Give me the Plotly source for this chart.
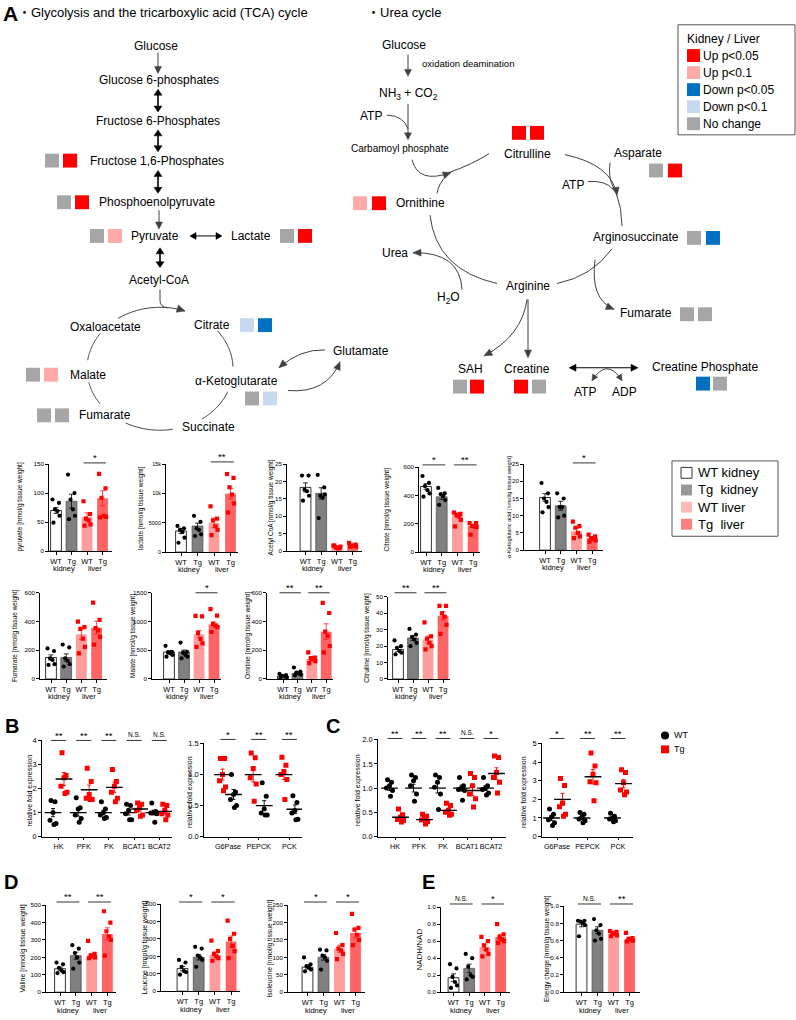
import math
import plotly.graph_objects as go

W, H = 796, 1020
FONT = "Liberation Sans, Arial, Noto Sans CJK JP, sans-serif"

UP05 = "#FF0000"; UP10 = "#FFA9A9"; DN05 = "#0070C0"; DN10 = "#C6D9F0"; NOCH = "#A6A6A6"
BAR_WTK = "#FFFFFF"; BAR_TGK = "#808080"; BAR_WTL = "#FF9C9C"; BAR_TGL = "#FF6464"
PT_LIVER = "#FF0000"
ARC = "#404040"

# ---------------- data ----------------
group_labels = ["WT", "Tg", "WT", "Tg"]
tissue_labels = ["kidney", "liver"]

pyruvate_mean = [70, 86, 59, 91]
pyruvate_sem = [5, 12, 7, 13]
pyruvate_pts = [[89, 83, 72, 69, 61, 49], [132, 100, 89, 72, 61, 55],
                [86, 64, 56, 53, 46, 44], [133, 108, 92, 61, 59, 58]]

lactate_mean = [3600, 4450, 5000, 9950]
lactate_sem = [450, 500, 800, 900]
lactate_pts = [[4470, 4060, 3780, 3430, 2460, 1600], [6180, 5150, 4060, 3780, 3030, 2750],
               [7800, 5700, 5400, 4400, 3800, 2900], [13300, 12650, 11050, 9800, 8300, 6750]]

acetyl_mean = [18.3, 16.6, 1.3, 1.6]
acetyl_sem = [1.3, 1.6, 0.2, 0.2]
acetyl_pts = [[21.7, 21.7, 17.7, 17.2, 15.9, 14.5], [21.9, 18.3, 15.9, 15.3, 16.3, 9.5],
              [1.6, 1.0, 1.0, 0.8, 1.3, 1.6], [2.4, 1.9, 1.6, 1.5, 1.3, 1.3]]

citrate_mean = [463, 390, 260, 185]
citrate_sem = [20, 18, 15, 10]
citrate_pts = [[537, 488, 465, 437, 414, 391], [453, 414, 409, 395, 367, 333],
               [279, 270, 263, 251, 228, 181], [205, 205, 186, 181, 177, 123]]

akg_mean = [15.3, 12.9, 5.5, 3.5]
akg_sem = [1.1, 1.3, 0.8, 0.35]
akg_pts = [[19.5, 16.5, 15, 14, 12.5, 11], [16.5, 15, 12.5, 12.5, 10, 9.5],
           [8.3, 7, 6.5, 5, 4, 3.5], [4.5, 4, 3.5, 3.2, 2.8, 2.5]]

fumarate_mean = [150, 150, 312, 358]
fumarate_sem = [18, 25, 38, 45]
fumarate_pts = [[213, 195, 144, 133, 103, 98], [240, 220, 144, 126, 103, 87],
                [400, 362, 350, 281, 224, 178], [533, 412, 355, 339, 293, 240]]

malate_mean = [470, 470, 780, 950]
malate_sem = [25, 35, 65, 45]
malate_pts = [[578, 475, 458, 446, 418, 389], [635, 475, 458, 418, 389, 361],
              [1100, 1090, 800, 700, 620, 560], [1219, 1105, 962, 933, 905, 819]]

ornithine_mean = [20, 40, 140, 330]
ornithine_sem = [4, 8, 12, 55]
ornithine_pts = [[35, 28, 22, 18, 14, 10], [80, 52, 45, 38, 30, 25],
                 [185, 150, 145, 138, 125, 110], [530, 460, 330, 300, 230, 185]]

citrulline_mean = [18, 25, 24, 38.5]
citrulline_sem = [1.2, 1.5, 2.2, 2.5]
citrulline_pts = [[23.5, 20, 19, 17, 16, 15], [30.5, 27, 25.5, 24, 22, 20],
                  [34.5, 26, 24.5, 22, 20, 18], [44.5, 44.5, 40, 38, 33, 27.5]]

valine_mean = [135, 210, 210, 335]
valine_sem = [8, 20, 12, 35]
valine_pts = [[170, 160, 140, 125, 115, 110], [270, 250, 225, 200, 170, 135],
              [295, 220, 210, 205, 200, 195], [465, 400, 350, 320, 300, 210]]

leucine_mean = [130, 195, 210, 285]
leucine_sem = [12, 15, 15, 32]
leucine_pts = [[180, 165, 140, 115, 110, 95], [255, 245, 205, 195, 180, 140],
               [290, 230, 215, 200, 190, 175], [405, 330, 300, 260, 230, 190]]

isoleucine_mean = [72, 100, 125, 170]
isoleucine_sem = [5, 8, 10, 14]
isoleucine_pts = [[100, 80, 75, 70, 65, 60], [122, 120, 105, 100, 90, 65],
                  [170, 135, 125, 120, 110, 95], [225, 185, 180, 165, 150, 135]]

nadh_mean = [0.17, 0.28, 0.53, 0.65]
nadh_sem = [0.045, 0.05, 0.035, 0.03]
nadh_pts = [[0.33, 0.28, 0.18, 0.12, 0.08, 0.05], [0.45, 0.40, 0.30, 0.20, 0.18, 0.15],
            [0.65, 0.60, 0.55, 0.50, 0.45, 0.42], [0.80, 0.68, 0.65, 0.62, 0.60, 0.58]]

energy_mean = [0.79, 0.72, 0.68, 0.61]
energy_sem = [0.03, 0.04, 0.01, 0.015]
energy_pts = [[0.83, 0.83, 0.82, 0.80, 0.78, 0.65], [0.85, 0.78, 0.72, 0.68, 0.62, 0.60],
              [0.71, 0.70, 0.69, 0.68, 0.66, 0.65], [0.69, 0.63, 0.62, 0.61, 0.60, 0.59]]

# Panel B / C (qPCR)
genes_glyco = ["HK", "PFK", "PK", "BCAT1", "BCAT2"]
genes_gluco = ["G6Pase", "PEPCK", "PCK"]

b1_wt_pts = [[1.5, 1.45, 1.0, 0.68, 0.55, 0.5], [1.62, 1.2, 1.15, 0.9, 0.75, 0.6],
             [1.45, 1.15, 1.0, 0.9, 0.8, 0.75], [1.35, 1.3, 1.1, 0.95, 0.7, 0.7],
             [1.4, 1.05, 1.0, 0.98, 0.95, 0.6]]
b1_tg_pts = [[3.5, 2.55, 2.45, 2.1, 1.85, 1.8], [2.85, 2.3, 1.75, 1.6, 1.55, 1.55],
             [2.8, 2.3, 2.1, 1.85, 1.6, 1.45], [1.4, 1.35, 1.2, 1.1, 0.9, 0.85],
             [1.35, 1.3, 1.1, 0.95, 0.9, 0.7]]
b1_wt_mean = [1.0, 1.0, 1.0, 1.0, 1.0]
b1_tg_mean = [2.4, 1.95, 2.05, 1.15, 1.05]
b1_wt_sem = [0.17, 0.15, 0.1, 0.1, 0.1]
b1_tg_sem = [0.27, 0.2, 0.22, 0.09, 0.1]
b1_sig = ["**", "**", "**", "N.S.", "N.S."]

b2_tg_pts = [[1.26, 1.26, 1.0, 0.9, 0.8, 0.74], [1.35, 1.27, 1.1, 0.95, 0.85, 0.57],
             [1.28, 1.15, 1.05, 1.0, 0.92, 0.6]]
b2_wt_pts = [[1.0, 0.72, 0.68, 0.6, 0.5, 0.47], [0.87, 0.65, 0.45, 0.38, 0.35, 0.35],
             [0.66, 0.55, 0.42, 0.38, 0.28, 0.27]]
b2_tg_mean = [1.0, 1.0, 1.0]
b2_wt_mean = [0.68, 0.5, 0.44]
b2_tg_sem = [0.09, 0.12, 0.08]
b2_wt_sem = [0.08, 0.08, 0.07]
b2_sig = ["*", "**", "**"]

c1_wt_pts = [[1.17, 1.12, 1.05, 1.0, 0.95, 0.83], [1.27, 1.22, 1.15, 1.05, 0.88, 0.73],
             [1.27, 1.22, 1.12, 1.02, 0.88, 0.56], [1.22, 1.05, 1.0, 0.97, 0.95, 0.75],
             [1.22, 1.05, 1.0, 0.97, 0.9, 0.86]]
c1_tg_pts = [[0.57, 0.45, 0.4, 0.35, 0.33, 0.3], [0.46, 0.42, 0.39, 0.34, 0.31, 0.26],
             [0.69, 0.64, 0.54, 0.5, 0.46, 0.44], [1.3, 1.22, 1.05, 0.88, 0.78, 0.61],
             [1.66, 1.63, 1.32, 1.22, 1.12, 0.9]]
c1_wt_mean = [1.0, 1.0, 1.0, 1.0, 1.0]
c1_tg_mean = [0.4, 0.35, 0.54, 0.95, 1.3]
c1_wt_sem = [0.05, 0.08, 0.1, 0.06, 0.05]
c1_tg_sem = [0.04, 0.03, 0.05, 0.1, 0.12]
c1_sig = ["**", "**", "**", "N.S.", "*"]

c2_wt_pts = [[1.48, 1.2, 1.05, 0.9, 0.75, 0.6], [1.3, 1.2, 1.05, 0.95, 0.85, 0.75],
             [1.25, 1.1, 1.0, 0.95, 0.85, 0.8]]
c2_tg_pts = [[3.12, 2.75, 1.8, 1.6, 1.2, 1.1], [4.5, 3.8, 3.35, 2.95, 2.9, 1.93],
             [3.6, 3.45, 2.9, 2.5, 2.4, 2.25]]
c2_wt_mean = [1.0, 1.0, 1.0]
c2_tg_mean = [2.0, 3.22, 2.85]
c2_wt_sem = [0.13, 0.08, 0.07]
c2_tg_sem = [0.32, 0.38, 0.22]
c2_sig = ["*", "**", "**"]

# pathway status (kidney, liver)
status = {
    "F16P": (NOCH, UP05), "PEP": (NOCH, UP05), "Pyr": (NOCH, UP10), "Lac": (NOCH, UP05),
    "Cit": (DN10, DN05), "Mal": (NOCH, UP10), "aKG": (NOCH, DN10), "Fum1": (NOCH, NOCH),
    "Citrul": (UP05, UP05), "Asp": (NOCH, UP05), "Orn": (UP10, UP05), "ASA": (NOCH, DN05),
    "Fum2": (NOCH, NOCH), "SAH": (NOCH, UP05), "Crea": (UP05, NOCH), "CrP": (DN05, NOCH),
}
legend_status = [("Up p<0.05", UP05), ("Up p<0.1", UP10), ("Down p<0.05", DN05),
                 ("Down p<0.1", DN10), ("No change", NOCH)]
legend_bars = [("WT kidney", BAR_WTK), ("Tg  kidney", "#999999"), ("WT liver", "#FFB8B8"), ("Tg  liver", "#FF7F7F")]

# ---------------- helpers ----------------
fig = go.Figure()
layout = {}
shapes = []
annos = []


def T(x, y, s, size=12, xanchor="center", yanchor="middle", bold=False, color="black", angle=0):
    if bold:
        s = f"<b>{s}</b>"
    annos.append(dict(x=x, y=y, xref="x", yref="y", text=s, showarrow=False,
                      font=dict(size=size, color=color, family=FONT),
                      xanchor=xanchor, yanchor=yanchor, textangle=angle, borderpad=0))


def sq(x, y, color, s=14, edge=None):
    shapes.append(dict(type="rect", xref="x", yref="y", x0=x, x1=x + s, y0=y, y1=y + s,
                       fillcolor=color, line=dict(color=edge or color, width=0.8 if edge else 0)))


def seg(x0, y0, x1, y1, color="black", width=1):
    shapes.append(dict(type="line", xref="x", yref="y", x0=x0, y0=y0, x1=x1, y1=y1,
                       line=dict(color=color, width=width)))


def head(tx, ty, dx, dy, color=ARC, L=8, w=3.5):
    n = math.hypot(dx, dy)
    ux, uy = dx / n, dy / n
    bx, by = tx - ux * L, ty - uy * L
    nx, ny = -uy, ux
    path = (f"M{tx:.2f},{ty:.2f} L{bx + nx * w:.2f},{by + ny * w:.2f} "
            f"L{bx - nx * w:.2f},{by - ny * w:.2f} Z")
    shapes.append(dict(type="path", xref="x", yref="y", path=path, fillcolor=color,
                       line=dict(color=color, width=0.5)))


def arrow(x0, y0, x1, y1, color=ARC, width=1, double=False, L=8, w=3.5):
    dx, dy = x1 - x0, y1 - y0
    n = math.hypot(dx, dy)
    ux, uy = dx / n, dy / n
    sx, sy = (x0 + ux * (L - 1), y0 + uy * (L - 1)) if double else (x0, y0)
    seg(sx, sy, x1 - ux * (L - 1), y1 - uy * (L - 1), color, width)
    head(x1, y1, dx, dy, color, L, w)
    if double:
        head(x0, y0, -dx, -dy, color, L, w)


def qcurve(p0, c, p1, color=ARC, width=1, head_end=False, head_start=False, L=8, w=3.5):
    path = f"M{p0[0]},{p0[1]} Q{c[0]},{c[1]} {p1[0]},{p1[1]}"
    shapes.append(dict(type="path", xref="x", yref="y", path=path,
                       fillcolor="rgba(0,0,0,0)", line=dict(color=color, width=width)))
    if head_end:
        head(p1[0], p1[1], p1[0] - c[0], p1[1] - c[1], color, L, w)
    if head_start:
        head(p0[0], p0[1], p0[0] - c[0], p0[1] - c[1], color, L, w)


TCA = (160, 368, 73, 62)


def arc(a0, a1, with_head=False, n=30):
    cx, cy, rx, ry = TCA
    pts = []
    for i in range(n + 1):
        t = math.radians(a0 + (a1 - a0) * i / n)
        pts.append((cx + rx * math.cos(t), cy + ry * math.sin(t)))
    path = "M" + " L".join(f"{x:.2f},{y:.2f}" for x, y in pts)
    shapes.append(dict(type="path", xref="x", yref="y", path=path,
                       fillcolor="rgba(0,0,0,0)", line=dict(color=ARC, width=1)))
    if with_head:
        t = math.radians(a1)
        head(pts[-1][0], pts[-1][1], -rx * math.sin(t), ry * math.cos(t), ARC, 8, 3.8)


def pair(key, x, y, gap=18, s=14):
    k, l = status[key]
    sq(x, y, k, s)
    sq(x + gap, y, l, s)


# ---------------- titles ----------------
T(2, 10, "A", size=21, xanchor="left", bold=True)
T(17, 9, "・Glycolysis and the tricarboxylic acid (TCA) cycle", size=13, xanchor="left")
T(366, 9, "・Urea cycle", size=13, xanchor="left")

# ---------------- glycolysis / TCA ----------------
T(156, 42, "Glucose")
T(159, 77, "Glucose 6-phosphates")
T(158, 118, "Fructose 6-Phosphates")
T(157, 158, "Fructose 1,6-Phosphates")
T(157, 200, "Phosphoenolpyruvate")
T(155, 234, "Pyruvate")
T(251, 234, "Lactate")
T(159, 278, "Acetyl-CoA")
T(105, 326, "Oxaloacetate")
T(212, 324, "Citrate")
T(88, 374, "Malate")
T(236, 380, "α-Ketoglutarate")
T(361, 350, "Glutamate")
T(105, 415, "Fumarate")
T(208, 427, "Succinate")

arrow(158, 49, 158, 70, ARC, 1, L=7, w=3.5)
for y0, y1 in [(86, 109), (127, 149), (168, 191)]:
    arrow(158, y0, 158, y1, "black", 1.6, double=True, L=6, w=4)
arrow(159, 208, 159, 227, ARC, 1, L=7, w=3.5)
arrow(160, 246, 160, 266, "black", 1.6, double=True, L=6, w=4)
arrow(190, 234, 222, 234, "black", 1, double=True, L=6, w=3.5)

shapes.append(dict(type="path", xref="x", yref="y", path="M160,288 L160,299 Q160,306 168,306.5",
                   fillcolor="rgba(0,0,0,0)", line=dict(color=ARC, width=1)))
arc(-125, -70, with_head=True)
arc(-38, -2)
arc(22, 55)
arc(80, 118)
arc(145, 167)
arc(188, 215)
qcurve((325, 349), (300, 348), (279, 367), head_end=True)
qcurve((288, 390), (327, 393), (340, 361), head_end=True)

pair("F16P", 45, 151)
pair("PEP", 57, 193)
pair("Pyr", 90, 227)
pair("Lac", 280, 227)
pair("Cit", 240, 317)
pair("Mal", 26, 367)
pair("aKG", 245, 391)
pair("Fum1", 37, 408)

# ---------------- urea cycle ----------------
T(404, 41, "Glucose")
T(421, 60, "oxidation deamination", size=9.5, xanchor="left")
T(408, 91, "NH<sub>3</sub> + CO<sub>2</sub>")
T(371, 113, "ATP")
T(400, 146, "Carbamoyl phosphate", size=10)
T(527, 151, "Citrulline")
T(638, 150, "Asparate")
T(573, 183, "ATP")
T(420, 201, "Ornithine")
T(636, 235, "Arginosuccinate")
T(395, 251, "Urea")
T(448, 297, "H<sub>2</sub>O")
T(528, 285, "Arginine")
T(646, 312, "Fumarate")
T(470, 368, "SAH")
T(527, 368, "Creatine")
T(705, 366, "Creatine Phosphate")
T(585, 391, "ATP")
T(624, 391, "ADP")

arrow(408, 51, 408, 73, ARC, 1, L=7, w=3.5)
arrow(408, 101, 408, 137, ARC, 1, L=7, w=3.5)
qcurve((387, 112), (404, 113), (408, 126))
qcurve((412, 157), (418, 182), (451, 170), head_end=True)
qcurve((449, 170), (472, 162), (489, 151))
qcurve((437, 191), (439, 180), (447, 173))
qcurve((565, 152), (612, 162), (617, 193), head_end=True)
qcurve((616, 190), (622, 206), (622, 224))
qcurve((610, 160), (608, 177), (614, 186))
qcurve((588, 179), (606, 178), (613, 187))
qcurve((612, 247), (592, 275), (557, 282))
qcurve((430, 213), (436, 268), (497, 282))
qcurve((462, 288), (460, 250), (413, 251), head_end=True)
qcurve((595, 258), (590, 298), (614, 308), head_end=True)
qcurve((527, 298), (522, 335), (484, 355), head_end=True)
arrow(528, 298, 528, 357, ARC, 1, L=8, w=3.5)
arrow(569, 367, 638, 367, "black", 1, double=True, L=7, w=3.5)
qcurve((592, 380), (607, 356), (622, 380), head_end=True, head_start=True, L=6, w=3)

pair("Citrul", 512, 123)
pair("Asp", 649, 161, gap=19)
pair("Orn", 353, 194, gap=19)
pair("ASA", 687, 229, gap=19)
pair("Fum2", 680, 306)
pair("SAH", 453, 379, gap=17)
pair("Crea", 514, 379)
pair("CrP", 696, 376, gap=17)

# status legend
shapes.append(dict(type="rect", xref="x", yref="y", x0=678, x1=795, y0=21, y1=132,
                   line=dict(color="#555555", width=1), fillcolor="white", layer="below"))
T(686, 35, "Kidney / Liver", xanchor="left")
for i, (lab, col) in enumerate(legend_status):
    yc = 52 + i * 17.2
    sq(687, yc - 6.5, col, 13)
    T(702, yc, lab, xanchor="left")

# bar legend
shapes.append(dict(type="rect", xref="x", yref="y", x0=672, x1=778, y0=461, y1=537,
                   line=dict(color="#555555", width=1), fillcolor="white", layer="below"))
for i, (lab, col) in enumerate(legend_bars):
    yc = 473 + i * 17.3
    sq(681, yc - 5.5, col, 11, edge="black" if col == "#FFFFFF" else None)
    T(697, yc, lab, size=13, xanchor="left")

# panel letters
T(4, 728, "B", size=20, xanchor="left", bold=True)
T(325, 728, "C", size=20, xanchor="left", bold=True)
T(3, 886, "D", size=20, xanchor="left", bold=True)
T(421, 886, "E", size=20, xanchor="left", bold=True)

# WT/Tg legend for C
shapes.append(dict(type="circle", xref="x", yref="y", x0=661, x1=669, y0=734, y1=742,
                   fillcolor="black", line=dict(width=0)))
sq(661, 748, PT_LIVER, 8)
T(673, 738, "WT", size=9, xanchor="left")
T(673, 752, "Tg", size=9, xanchor="left")


def ax_common():
    return dict(showgrid=False, zeroline=False, showline=True, linecolor="black", linewidth=0.8,
                ticks="outside", ticklen=3, tickwidth=0.8, tickcolor="black", fixedrange=True,
                tickangle=0)


def sig_mark(xa, xb, y, txt, color="black"):
    seg(xa, y, xb, y, color, 0.8)
    if "*" in txt:
        T((xa + xb) / 2, y + 1.5, txt, size=9.5, yanchor="bottom")
    else:
        T((xa + xb) / 2, y - 1, txt, size=6.5, yanchor="bottom")


def ticks_for(ymax, dtick):
    n = int(round(ymax / dtick))
    return [round(i * dtick, 6) for i in range(n + 1)]


axn = [2]
JIT_BAR = [-3.5, 3.0, -1.0, 1.5, 3.5, -2.5]


def bar_panel(mean, sem, pts, ymax, dtick, geom, label, label_x, sig, sig_y,
              tickfmt="", tick_size=6.2, label_size=6.5):
    left, c0, sp, right, ybot, ytop = geom
    k = axn[0]; axn[0] += 1
    xn, yn = f"x{k}", f"y{k}"
    x0 = -(c0 - left) / sp
    x1 = 3 + (right - c0 - 3 * sp) / sp
    layout[f"xaxis{k}"] = dict(ax_common(), domain=[left / W, right / W], range=[x0, x1], anchor=yn,
                               tickmode="array", tickvals=[0, 1, 2, 3], ticktext=group_labels,
                               tickfont=dict(size=7.5, family=FONT, color="black"))
    layout[f"yaxis{k}"] = dict(ax_common(), domain=[1 - ybot / H, 1 - ytop / H], range=[0, ymax * 1.002],
                               anchor=xn, tickmode="array", tickvals=ticks_for(ymax, dtick),
                               tickformat=tickfmt, tickfont=dict(size=tick_size, family=FONT, color="black"))
    bw = 10.8 / sp
    fig.add_trace(go.Bar(x=[0, 1], y=mean[:2], width=bw, xaxis=xn, yaxis=yn,
                         marker=dict(color=[BAR_WTK, BAR_TGK], line=dict(color=["black", "#505050"], width=0.8)),
                         error_y=dict(type="data", array=sem[:2], color="black", thickness=0.8, width=2.5)))
    fig.add_trace(go.Bar(x=[2, 3], y=mean[2:], width=bw, xaxis=xn, yaxis=yn,
                         marker=dict(color=[BAR_WTL, BAR_TGL], line=dict(width=0)),
                         error_y=dict(type="data", array=sem[2:], color="#FF2020", thickness=0.8, width=2.5)))
    for i in range(4):
        xs = [i + j / sp for j in JIT_BAR[:len(pts[i])]]
        liver = i >= 2
        fig.add_trace(go.Scatter(x=xs, y=pts[i], mode="markers", xaxis=xn, yaxis=yn,
                                 marker=dict(size=4.2, symbol="square" if liver else "circle",
                                             color=PT_LIVER if liver else "black", line=dict(width=0))))
    T(label_x, (ybot + ytop) / 2, label, size=label_size, angle=-90)
    T(c0 + sp / 2, ybot + 18, tissue_labels[0], size=7.5)
    T(c0 + 2.5 * sp, ybot + 18, tissue_labels[1], size=7.5)
    for (i, j, txt) in sig:
        sig_mark(c0 + i * sp - 3.5, c0 + j * sp + 3.5, sig_y, txt)


JIT_DOT = [-2.0, 2.0, 0.0, -3.0, 3.0, 1.0]


def dot_panel(cats, first_pts, second_pts, first_mean, second_mean, first_sem, second_sem,
              first_is_wt, ymax, dtick, geom, label_x, sig, sig_y, tickfmt=""):
    left, c0, sp, right, ybot, ytop = geom
    k = axn[0]; axn[0] += 1
    xn, yn = f"x{k}", f"y{k}"
    n = len(cats)
    x0 = -(c0 - left) / sp
    x1 = (n - 1) + (right - c0 - (n - 1) * sp) / sp
    layout[f"xaxis{k}"] = dict(ax_common(), domain=[left / W, right / W], range=[x0, x1], anchor=yn,
                               tickmode="array", tickvals=list(range(n)), ticktext=cats,
                               tickfont=dict(size=7.2, family=FONT, color="black"))
    layout[f"yaxis{k}"] = dict(ax_common(), domain=[1 - ybot / H, 1 - ytop / H], range=[0, ymax * 1.002],
                               anchor=xn, tickmode="array", tickvals=ticks_for(ymax, dtick),
                               tickformat=tickfmt, tickfont=dict(size=7.5, family=FONT, color="black"))
    off = 5.5 / sp
    groups = [(-off, first_pts, first_mean, first_sem, first_is_wt),
              (off, second_pts, second_mean, second_sem, not first_is_wt)]
    for (o, pts, mean, sem, is_wt) in groups:
        col = "black" if is_wt else PT_LIVER
        for i in range(n):
            xs = [i + o + j / sp for j in JIT_DOT[:len(pts[i])]]
            fig.add_trace(go.Scatter(x=xs, y=pts[i], mode="markers", xaxis=xn, yaxis=yn,
                                     marker=dict(size=5, symbol="circle" if is_wt else "square",
                                                 color=col, line=dict(width=0))))
        fig.add_trace(go.Scatter(x=[i + o for i in range(n)], y=mean, mode="markers", xaxis=xn, yaxis=yn,
                                 marker=dict(symbol="line-ew", size=12, color="black",
                                             line=dict(color="black", width=1.4)),
                                 error_y=dict(type="data", array=sem, color=col, thickness=0.9, width=2)))
    T(label_x, (ybot + ytop) / 2 + 2, "relative fold expression", size=7, angle=-90)
    for i, txt in enumerate(sig):
        sig_mark(c0 + i * sp - 7.5, c0 + i * sp + 7.5, sig_y, txt)


# ---------------- row 1 ----------------
bar_panel(pyruvate_mean, pyruvate_sem, pyruvate_pts, 150, 50, (49, 56, 15.5, 112, 552, 464),
          "pyruvate [nmol/g tissue weight]", 20, [(2, 3, "*")], 463)
bar_panel(lactate_mean, lactate_sem, lactate_pts, 15000, 5000, (166, 181, 16.5, 238, 553, 464),
          "lactate [nmol/g tissue weight]", 141, [(2, 3, "**")], 462, tick_size=5.5)
bar_panel(acetyl_mean, acetyl_sem, acetyl_pts, 25, 5, (287, 305.5, 15.7, 362, 552, 464),
          "Acetyl CoA [nmol/g tissue weight]", 271, [], 463)
bar_panel(citrate_mean, citrate_sem, citrate_pts, 600, 200, (419, 426, 15.7, 480, 553, 467),
          "Citrate [nmol/g tissue weight]", 386, [(0, 1, "*"), (2, 3, "**")], 465)
bar_panel(akg_mean, akg_sem, akg_pts, 25, 5, (524, 545, 15.7, 603, 551, 464),
          "α-Ketoglutaric acid [nmol/g tissue weight]", 509, [(2, 3, "*")], 463, label_size=5.6)

# ---------------- row 2 ----------------
bar_panel(fumarate_mean, fumarate_sem, fumarate_pts, 600, 200, (40, 51, 15.2, 107, 681, 594),
          "Fumarate [nmol/g tissue weight]", 15, [], 594)
bar_panel(malate_mean, malate_sem, malate_pts, 1500, 500, (152, 169, 15.0, 221, 681, 594),
          "Malate [nmol/g tissue weight]", 133, [(2, 3, "*")], 594)
bar_panel(ornithine_mean, ornithine_sem, ornithine_pts, 600, 200, (267, 283, 14.4, 333, 681, 594),
          "Ornitine [nmol/g tissue weight]", 248, [(0, 1, "**"), (2, 3, "**")], 594)
bar_panel(citrulline_mean, citrulline_sem, citrulline_pts, 50, 10, (388, 398, 15.0, 450, 681, 598),
          "Citrulline [nmol/g tissue weight]", 367, [(0, 1, "**"), (2, 3, "**")], 594)

# ---------------- B / C ----------------
dot_panel(genes_glyco, b1_wt_pts, b1_tg_pts, b1_wt_mean, b1_tg_mean, b1_wt_sem, b1_tg_sem, True,
          4, 1, (42, 58.5, 25.2, 172, 840, 743), 29, b1_sig, 743)
dot_panel(genes_gluco, b2_tg_pts, b2_wt_pts, b2_tg_mean, b2_wt_mean, b2_tg_sem, b2_wt_sem, False,
          1.5, 0.5, (204, 228, 30.7, 302, 840, 746), 190, b2_sig, 742, tickfmt=".1f")
dot_panel(genes_glyco, c1_wt_pts, c1_tg_pts, c1_wt_mean, c1_tg_mean, c1_wt_sem, c1_tg_sem, True,
          2.0, 0.5, (378, 395, 24.0, 506, 840, 742), 358, c1_sig, 741, tickfmt=".1f")
dot_panel(genes_gluco, c2_wt_pts, c2_tg_pts, c2_wt_mean, c2_tg_mean, c2_wt_sem, c2_tg_sem, True,
          5, 1, (542, 557, 30.5, 633, 840, 746), 524, c2_sig, 741)

# ---------------- D / E ----------------
bar_panel(valine_mean, valine_sem, valine_pts, 500, 100, (46, 60, 15.8, 116, 997, 909),
          "Valine [nmol/g tissue weight]", 23, [(0, 1, "**"), (2, 3, "**")], 906, label_size=7)
bar_panel(leucine_mean, leucine_sem, leucine_pts, 500, 100, (161, 182.5, 16.2, 240, 996, 908),
          "Leucine [nmol/g tissue weight]", 145, [(0, 1, "*"), (2, 3, "*")], 906, label_size=7)
bar_panel(isoleucine_mean, isoleucine_sem, isoleucine_pts, 250, 50, (288, 307.5, 16.0, 365, 997, 909),
          "Isoleucine [nmol/g tissue weight]", 270, [(0, 1, "*"), (2, 3, "*")], 906, label_size=6.8)
bar_panel(nadh_mean, nadh_sem, nadh_pts, 1.0, 0.2, (441, 453.5, 15.7, 510, 997, 911),
          "NADH/NAD", 420, [(0, 1, "N.S."), (2, 3, "*")], 908, tickfmt=".1f", label_size=8)
bar_panel(energy_mean, energy_sem, energy_pts, 1.0, 0.2, (564, 581.5, 16.0, 640, 997, 910),
          "Energy charge [nmol/g tissue weight]", 547, [(0, 1, "N.S."), (2, 3, "**")], 908, tickfmt=".1f")

# diagram canvas axis (pixel coordinates)
fig.add_trace(go.Scatter(x=[0], y=[0], mode="markers", marker=dict(opacity=0), hoverinfo="skip",
                         xaxis="x", yaxis="y"))
layout["xaxis"] = dict(domain=[0, 1], range=[0, W], visible=False, fixedrange=True)
layout["yaxis"] = dict(domain=[0, 1], range=[H, 0], visible=False, fixedrange=True)

fig.update_layout(**layout)
fig.update_layout(width=W, height=H, margin=dict(l=0, r=0, t=0, b=0), showlegend=False,
                  paper_bgcolor="white", plot_bgcolor="rgba(0,0,0,0)", barmode="overlay",
                  font=dict(family=FONT, color="black"), shapes=shapes, annotations=annos)
fig.write_html("out.html", config={"displayModeBar": False},
               post_script="document.body.style.margin='0';")
